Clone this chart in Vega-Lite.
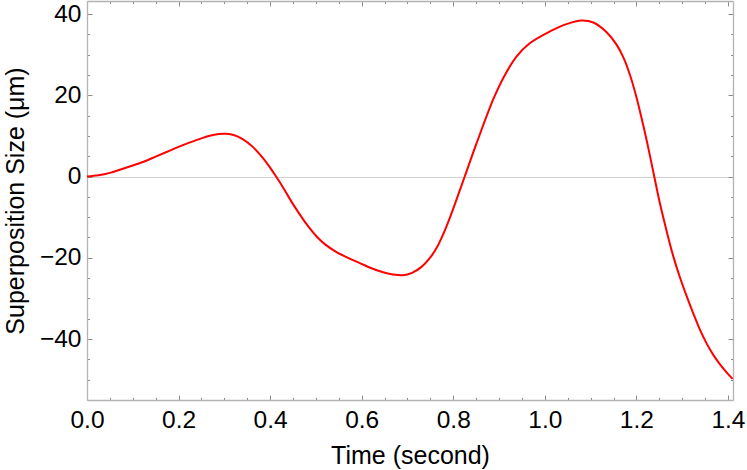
{
  "$schema": "https://vega.github.io/schema/vega-lite/v6.json",
  "width": 646,
  "height": 399,
  "autosize": {"type": "none"},
  "padding": {"left": 87, "top": 1, "right": 14, "bottom": 70},
  "background": "white",
  "config": {"view": {"stroke": null}, "font": "Liberation Sans"},
  "data": {"values": [
    {"t": 0, "s": 0},
    {"t": 0.025, "s": 0.3},
    {"t": 0.05, "s": 0.9},
    {"t": 0.075, "s": 1.8},
    {"t": 0.1, "s": 2.7},
    {"t": 0.125, "s": 3.7},
    {"t": 0.15, "s": 4.9},
    {"t": 0.175, "s": 6.1},
    {"t": 0.2, "s": 7.3},
    {"t": 0.225, "s": 8.4},
    {"t": 0.25, "s": 9.4},
    {"t": 0.275, "s": 10.2},
    {"t": 0.3, "s": 10.5},
    {"t": 0.32, "s": 10.2},
    {"t": 0.34, "s": 9.2},
    {"t": 0.362, "s": 7.3},
    {"t": 0.384, "s": 4.6},
    {"t": 0.398, "s": 2.5},
    {"t": 0.413, "s": 0},
    {"t": 0.425, "s": -2.1},
    {"t": 0.435, "s": -4.0},
    {"t": 0.45, "s": -6.8},
    {"t": 0.464, "s": -9.2},
    {"t": 0.48, "s": -11.8},
    {"t": 0.501, "s": -14.7},
    {"t": 0.52, "s": -16.7},
    {"t": 0.545, "s": -18.6},
    {"t": 0.57, "s": -20.0},
    {"t": 0.596, "s": -21.3},
    {"t": 0.62, "s": -22.5},
    {"t": 0.645, "s": -23.5},
    {"t": 0.668, "s": -24.1},
    {"t": 0.69, "s": -24.3},
    {"t": 0.71, "s": -23.7},
    {"t": 0.73, "s": -22.3},
    {"t": 0.752, "s": -19.6},
    {"t": 0.765, "s": -17.3},
    {"t": 0.778, "s": -14.2},
    {"t": 0.79, "s": -10.9},
    {"t": 0.8, "s": -7.9},
    {"t": 0.812, "s": -4.1},
    {"t": 0.825, "s": 0},
    {"t": 0.851, "s": 8.2},
    {"t": 0.887, "s": 18.9},
    {"t": 0.909, "s": 24.2},
    {"t": 0.938, "s": 29.5},
    {"t": 0.967, "s": 32.8},
    {"t": 1.011, "s": 35.7},
    {"t": 1.047, "s": 37.5},
    {"t": 1.08, "s": 38.4},
    {"t": 1.106, "s": 37.9},
    {"t": 1.135, "s": 35.5},
    {"t": 1.157, "s": 32.4},
    {"t": 1.172, "s": 29.2},
    {"t": 1.186, "s": 25.0},
    {"t": 1.2, "s": 19.6},
    {"t": 1.215, "s": 12.6},
    {"t": 1.227, "s": 6.5},
    {"t": 1.239, "s": 0},
    {"t": 1.252, "s": -6.9},
    {"t": 1.266, "s": -13.4},
    {"t": 1.28, "s": -19.4},
    {"t": 1.295, "s": -24.8},
    {"t": 1.31, "s": -29.5},
    {"t": 1.324, "s": -33.6},
    {"t": 1.338, "s": -37.5},
    {"t": 1.353, "s": -41.0},
    {"t": 1.368, "s": -43.9},
    {"t": 1.383, "s": -46.3},
    {"t": 1.397, "s": -48.2},
    {"t": 1.41, "s": -49.8}
  ]},
  "layer": [
    {
      "mark": {"type": "line", "color": "#ff0000", "strokeWidth": 2, "interpolate": "catmull-rom"},
      "encoding": {
        "x": {
          "field": "t", "type": "quantitative",
          "scale": {"domain": [0, 1.411], "nice": false, "zero": false},
          "axis": {
            "orient": "bottom",
            "title": "Time (second)",
            "titleFontSize": 25, "titleFontWeight": "normal", "titleColor": "black",
            "titleY": 63, "titleBaseline": "alphabetic",
            "values": [0,0.05,0.1,0.15,0.2,0.25,0.3,0.35,0.4,0.45,0.5,0.55,0.6,0.65,0.7,0.75,0.8,0.85,0.9,0.95,1,1.05,1.1,1.15,1.2,1.25,1.3,1.35,1.4],
            "labelExpr": "abs(datum.value*5 - round(datum.value*5)) < 0.001 ? format(datum.value, '.1f') : ''",
            "labelOverlap": false, "labelFlush": false,
            "labelFontSize": 24.5, "labelColor": "black",
            "labelPadding": 13,
            "tickSize": {"condition": {"test": "abs(datum.value*5 - round(datum.value*5)) < 0.001", "value": -5}, "value": -2.5},
            "tickColor": "#8c8c8c", "tickWidth": 1,
            "domainColor": "#b3b3b3", "domainWidth": 1.3,
            "grid": false
          }
        },
        "y": {
          "field": "s", "type": "quantitative",
          "scale": {"domain": [-55, 43.2], "nice": false, "zero": false},
          "axis": {
            "orient": "left",
            "title": "Superposition Size (μm)",
            "titleFontSize": 25, "titleFontWeight": "normal", "titleColor": "black",
            "titleX": -63.5, "titleBaseline": "alphabetic",
            "values": [-50,-45,-40,-35,-30,-25,-20,-15,-10,-5,0,5,10,15,20,25,30,35,40],
            "labelExpr": "datum.value % 20 === 0 ? format(datum.value, 'd') : ''",
            "labelOverlap": false, "labelFlush": false,
            "labelFontSize": 24.5, "labelColor": "black",
            "labelPadding": 11,
            "tickSize": {"condition": {"test": "datum.value % 20 === 0", "value": -5}, "value": -2.5},
            "tickColor": "#8c8c8c", "tickWidth": 1,
            "domainColor": "#b3b3b3", "domainWidth": 1.3,
            "grid": true,
            "gridColor": "#d0d0d0", "gridWidth": 1,
            "gridOpacity": {"condition": {"test": "datum.value === 0", "value": 1}, "value": 0}
          }
        }
      }
    },
    {
      "mark": {"type": "line", "opacity": 0, "interpolate": "catmull-rom"},
      "encoding": {
        "x": {
          "field": "t", "type": "quantitative",
          "axis": {
            "orient": "top", "title": null, "labels": false,
            "values": [0,0.05,0.1,0.15,0.2,0.25,0.3,0.35,0.4,0.45,0.5,0.55,0.6,0.65,0.7,0.75,0.8,0.85,0.9,0.95,1,1.05,1.1,1.15,1.2,1.25,1.3,1.35,1.4],
            "tickSize": {"condition": {"test": "abs(datum.value*5 - round(datum.value*5)) < 0.001", "value": -5}, "value": -2.5},
            "tickColor": "#8c8c8c", "tickWidth": 1,
            "domainColor": "#b3b3b3", "domainWidth": 1.3,
            "grid": false
          }
        },
        "y": {
          "field": "s", "type": "quantitative",
          "axis": {
            "orient": "right", "title": null, "labels": false,
            "values": [-50,-45,-40,-35,-30,-25,-20,-15,-10,-5,0,5,10,15,20,25,30,35,40],
            "tickSize": {"condition": {"test": "datum.value % 20 === 0", "value": -5}, "value": -2.5},
            "tickColor": "#8c8c8c", "tickWidth": 1,
            "domainColor": "#b3b3b3", "domainWidth": 1.3,
            "grid": false
          }
        }
      }
    }
  ]
}
